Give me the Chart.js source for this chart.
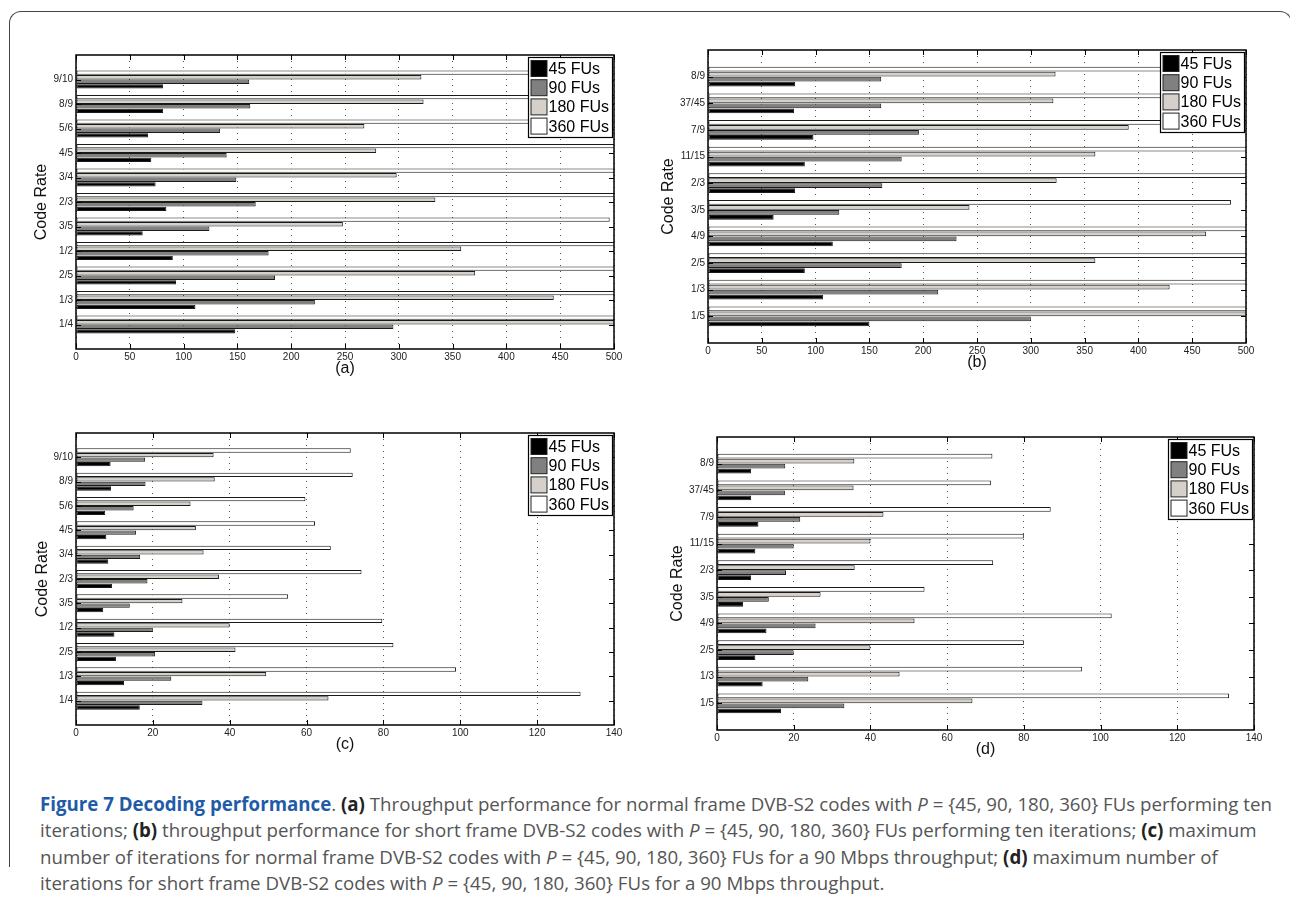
<!DOCTYPE html>
<html>
<head>
<meta charset="utf-8">
<script src="https://cdn.jsdelivr.net/npm/chart.js@4.4.1/dist/chart.umd.min.js"></script>
<style>
  body { margin: 0; background: #fff; width: 1290px; height: 899px; overflow: hidden; position: relative; }
  .frame { position: absolute; left: 9px; top: 11px; width: 1283px; height: 856px; box-sizing: border-box;
           border: 1px solid #444; border-bottom: none; border-radius: 12px 12px 0 0; }
  .plot { position: absolute; }
  .caption { position: absolute; left: 40px; top: 791px; font-family: "Open Sans", sans-serif; font-size: 18.7px;
             line-height: 26.3px; color: #555; white-space: nowrap; }
  .caption b { color: #222; }
  .caption .ft { color: #1f5ca8; font-weight: bold; }
</style>
</head>
<body>
<div class="frame"></div>
<canvas id="pa" class="plot"></canvas>
<canvas id="pb" class="plot"></canvas>
<canvas id="pc" class="plot"></canvas>
<canvas id="pd" class="plot"></canvas>
<div class="caption"><span class="ft">Figure 7 Decoding performance</span>. <b>(a)</b> Throughput performance for normal frame DVB-S2 codes with <i>P</i> = {45, 90, 180, 360} FUs performing ten<br>iterations; <b>(b)</b> throughput performance for short frame DVB-S2 codes with <i>P</i> = {45, 90, 180, 360} FUs performing ten iterations; <b>(c)</b> maximum<br>number of iterations for normal frame DVB-S2 codes with <i>P</i> = {45, 90, 180, 360} FUs for a 90 Mbps throughput; <b>(d)</b> maximum number of<br>iterations for short frame DVB-S2 codes with <i>P</i> = {45, 90, 180, 360} FUs for a 90 Mbps throughput.</div>
<script>
// series names / colours (legend order)
const fuNames = ['45 FUs', '90 FUs', '180 FUs', '360 FUs'];
const fuColors = ['#000000', '#808080', '#d5d1ca', '#ffffff'];

// (a) normal frame throughput, categories listed top to bottom
const catsNormal = ['9/10', '8/9', '5/6', '4/5', '3/4', '2/3', '3/5', '1/2', '2/5', '1/3', '1/4'];
const a45  = [81, 81, 67, 70, 74, 84, 62, 90, 93, 111, 148];
const a90  = [161, 162, 134, 140, 149, 167, 124, 179, 185, 222, 295];
const a180 = [321, 323, 268, 279, 298, 334, 248, 358, 371, 444, 590];
const a360 = [642, 646, 536, 558, 596, 668, 496, 716, 742, 888, 1180];

// (b) short frame throughput
const catsShort = ['8/9', '37/45', '7/9', '11/15', '2/3', '3/5', '4/9', '2/5', '1/3', '1/5'];
const b45  = [81, 80, 98, 90, 81, 61, 116, 90, 107, 150];
const b90  = [161, 161, 196, 180, 162, 122, 231, 180, 214, 300];
const b180 = [323, 321, 391, 360, 324, 243, 463, 360, 429, 600];
const b360 = [646, 642, 782, 720, 648, 486, 926, 720, 858, 1200];

// (c) max iterations, normal frame
const c45  = [9, 9.1, 7.6, 7.9, 8.4, 9.4, 7.1, 10, 10.4, 12.5, 16.6];
const c90  = [18, 18.1, 15, 15.6, 16.7, 18.6, 14, 20, 20.6, 24.8, 32.9];
const c180 = [35.8, 36.1, 29.8, 31.2, 33.2, 37.2, 27.7, 40, 41.5, 49.5, 65.7];
const c360 = [71.5, 72, 59.7, 62.2, 66.3, 74.3, 55.2, 79.7, 82.6, 98.9, 131.3];

// (d) max iterations, short frame
const d45  = [8.9, 8.9, 10.8, 10, 8.9, 6.8, 12.9, 10, 11.9, 16.7];
const d90  = [17.8, 17.7, 21.7, 20, 18, 13.5, 25.7, 20, 23.8, 33.2];
const d180 = [35.8, 35.6, 43.4, 40, 35.9, 27, 51.5, 40, 47.6, 66.6];
const d360 = [71.8, 71.4, 87, 80, 72, 54.1, 102.9, 80, 95.2, 133.5];

const font = '"Liberation Sans", Arial, sans-serif';

// empty slot at both ends so the categories sit like matlab's barh (limits 0..n+1)
function pad(arr) { return [null].concat(arr, [null]); }

// matlab style box, inner ticks and legend
const matlabBox = {
  id: 'matlabBox',
  afterDatasetsDraw(chart) {
    const { ctx, chartArea: a, scales: { x, y } } = chart;
    ctx.save();
    ctx.strokeStyle = '#000';
    ctx.lineWidth = 1;
    ctx.beginPath();
    x.ticks.forEach(t => {
      const px = Math.round(x.getPixelForValue(t.value)) + 0.5;
      ctx.moveTo(px, a.bottom); ctx.lineTo(px, a.bottom - 5);
      ctx.moveTo(px, a.top); ctx.lineTo(px, a.top + 5);
    });
    for (let i = 1; i < chart.data.labels.length - 1; i++) {
      const py = Math.round(y.getPixelForValue(i)) + 0.5;
      ctx.moveTo(a.left, py); ctx.lineTo(a.left + 5, py);
      ctx.moveTo(a.right, py); ctx.lineTo(a.right - 5, py);
    }
    ctx.stroke();
    ctx.lineWidth = 1.5;
    ctx.strokeRect(a.left, a.top, a.right - a.left, a.bottom - a.top);
    ctx.restore();
  },
  afterDraw(chart) {
    const { ctx, chartArea: a } = chart;
    const items = chart.data.datasets.slice().reverse();
    ctx.save();
    ctx.font = '16px ' + font;
    let tw = 0;
    items.forEach(ds => { tw = Math.max(tw, ctx.measureText(ds.label).width); });
    const w = Math.round(tw + 24), h = 80;
    const bx = Math.round(a.right - 2 - w) + 0.5, by = Math.round(a.top + 2) + 0.5;
    ctx.fillStyle = '#fff';
    ctx.fillRect(bx, by, w, h);
    ctx.strokeStyle = '#000';
    ctx.lineWidth = 1.2;
    ctx.strokeRect(bx, by, w, h);
    ctx.textBaseline = 'middle';
    items.forEach((ds, i) => {
      const cy = by + 11 + i * 19.2;
      ctx.fillStyle = ds.backgroundColor;
      ctx.fillRect(bx + 2.5, cy - 8, 16, 16);
      ctx.lineWidth = 1;
      ctx.strokeStyle = '#222';
      ctx.strokeRect(bx + 2.5, cy - 8, 16, 16);
      ctx.fillStyle = '#000';
      ctx.fillText(ds.label, bx + 20, cy + 1);
    });
    ctx.restore();
  }
};

// box = plot rectangle on the page, tx = centre of the "Code Rate" title
function drawPanel(id, box, tx, cats, series, xMax, xStep, sub) {
  const x0 = tx - 8, y0 = box.T - 12;
  const yw = box.L - x0;
  const cv = document.getElementById(id);
  cv.style.left = x0 + 'px';
  cv.style.top = y0 + 'px';
  cv.width = box.R + 14 - x0;
  cv.height = box.B + 28 - y0;

  // matlab draws the last series on top of each group
  const datasets = [3, 2, 1, 0].map(k => ({
    label: fuNames[k],
    data: pad(series[k]),
    backgroundColor: fuColors[k]
  }));

  new Chart(cv, {
    type: 'bar',
    data: { labels: pad(cats), datasets: datasets },
    options: {
      indexAxis: 'y',
      responsive: false,
      animation: false,
      layout: { padding: { top: 12, right: 14, left: 0, bottom: 0 } },
      datasets: {
        bar: {
          categoryPercentage: 0.75, barPercentage: 0.95,
          borderWidth: 1, borderColor: '#1a1a1a', borderSkipped: false, clip: 0
        }
      },
      plugins: { legend: { display: false }, tooltip: { enabled: false } },
      scales: {
        x: {
          min: 0, max: xMax,
          ticks: { stepSize: xStep, padding: 2, color: '#222', font: { size: 10, family: font } },
          grid: { color: '#555', lineWidth: 1, drawTicks: false },
          border: { display: false, dash: [1, 5] },
          title: { display: true, text: sub, color: '#111', padding: 0, font: { size: 16, family: font, lineHeight: 1 } },
          afterFit(s) { s.height = 28; }
        },
        y: {
          offset: false,
          ticks: { autoSkip: false, padding: 3, color: '#222', font: { size: 10, family: font } },
          grid: { display: false, drawTicks: false },
          border: { display: false },
          title: { display: true, text: 'Code Rate', color: '#111', padding: 0, font: { size: 16, family: font, lineHeight: 1 } },
          afterFit(s) { s.width = yw; }
        }
      }
    },
    plugins: [matlabBox]
  });
}

drawPanel('pa', { L: 76, T: 55, R: 614, B: 349 }, 42, catsNormal, [a45, a90, a180, a360], 500, 50, '(a)');
drawPanel('pb', { L: 708, T: 50, R: 1246, B: 343 }, 669, catsShort, [b45, b90, b180, b360], 500, 50, '(b)');
drawPanel('pc', { L: 76, T: 433, R: 614, B: 725 }, 43, catsNormal, [c45, c90, c180, c360], 140, 20, '(c)');
drawPanel('pd', { L: 717, T: 437, R: 1254, B: 730 }, 678, catsShort, [d45, d90, d180, d360], 140, 20, '(d)');
</script>
</body>
</html>
